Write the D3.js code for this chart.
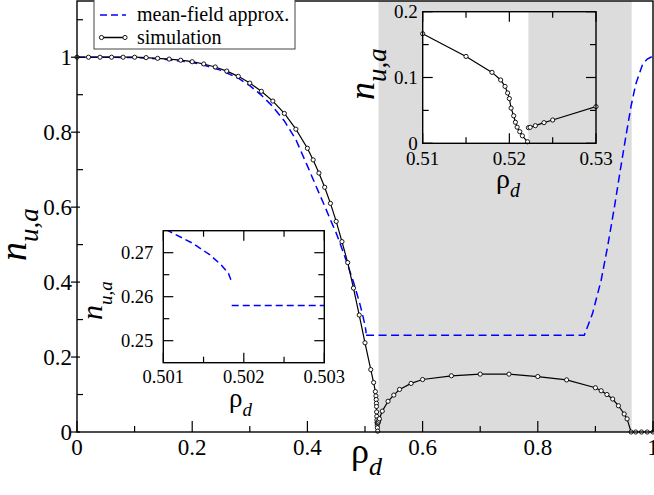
<!DOCTYPE html>
<html><head><meta charset="utf-8">
<script src="https://cdn.jsdelivr.net/npm/d3@7"></script>
<style>
body{margin:0;background:#fff;}
svg{display:block;}
</style></head><body>
<svg id="c" width="654" height="495"></svg>
<script>
// ---------------- data ----------------
const simLeftX = [0,0.02,0.04,0.06,0.08,0.10,0.12,0.14,0.16,0.18,0.20,0.22,0.24,0.26,0.28,0.30,0.32,0.34,0.36,0.38,0.40,0.41,0.42,0.43,0.44,0.45,0.46,0.47,0.48,0.49,0.50,0.51,0.515,0.518,0.519,0.5195,0.5198,0.52,0.5202,0.5205,0.5207,0.5209,0.5212,0.5215,0.5221];
const simLeftY = [1,1,1,1,1,1,0.999,0.997,0.995,0.992,0.988,0.982,0.974,0.963,0.949,0.931,0.909,0.883,0.850,0.808,0.757,0.726,0.691,0.653,0.610,0.562,0.508,0.452,0.384,0.312,0.238,0.1665,0.132,0.1078,0.0962,0.0865,0.0765,0.068,0.0535,0.0418,0.032,0.0245,0.0177,0.0114,0.0023];
const simRightX = [0.5222,0.5224,0.523,0.524,0.525,0.53,0.54,0.55,0.56,0.58,0.60,0.65,0.70,0.75,0.80,0.85,0.90,0.91,0.92,0.93,0.94,0.95,0.955,0.962,0.97,0.98,0.99,1.0];
const simRightY = [0.0238,0.0243,0.0268,0.0314,0.0354,0.0557,0.082,0.0985,0.1136,0.1296,0.140,0.150,0.1544,0.1544,0.148,0.139,0.118,0.110,0.100,0.088,0.070,0.048,0.035,0,0,0,0,0];
const mfUpperX = [0,0.05,0.10,0.15,0.20,0.22,0.25,0.28,0.30,0.32,0.34,0.36,0.38,0.40,0.42,0.43,0.44,0.45,0.46,0.47,0.48,0.49,0.495,0.50,0.501,0.50107,0.50137,0.50158,0.50172,0.50181,0.50185];
const mfUpperY = [1,1,0.999,0.995,0.986,0.979,0.965,0.944,0.924,0.899,0.868,0.83,0.78,0.71,0.638,0.603,0.566,0.531,0.489,0.446,0.400,0.348,0.318,0.285,0.2757,0.2749,0.2721,0.2695,0.2672,0.2653,0.2633];
const mfLowerX = [0.50185,0.8806,0.895,0.91,0.921,0.933,0.944,0.953,0.962,0.970,0.982,0.990,1.0];
const mfLowerY = [0.2580,0.2580,0.316,0.405,0.493,0.600,0.706,0.79,0.87,0.928,0.981,0.995,1.003];
const shadeMain = [0.5235, 0.963];
const shadeInset = [0.5222, 0.53];
const mainXTicks = [0,0.2,0.4,0.6,0.8,1], mainXMinor = [0.1,0.3,0.5,0.7,0.9];
const mainYTicks = [0,0.2,0.4,0.6,0.8,1], mainYMinor = [0.1,0.3,0.5,0.7,0.9,1.1];
const in1XTicks = [0.51,0.52,0.53], in1XMinor = [0.515,0.525];
const in1YTicks = [0,0.1,0.2], in1YMinor = [0.05,0.15];
const in2XTicks = [0.501,0.502,0.503], in2XMinor = [0.5015,0.5025];
const in2YTicks = [0.25,0.26,0.27], in2YMinor = [0.255,0.265];
const legendLabels = ["mean-field approx.", "simulation"];

// ---------------- drawing ----------------
const FONT = "'Liberation Serif', 'Times New Roman', Times, 'DejaVu Serif', serif";
const svg = d3.select("#c");
const BLUE = "#0000ff", GRAY = "#dcdcdc";
const zip = (a,b) => a.map((v,i)=>[v,b[i]]);
const fmt = d3.format("~g");
function txt(g){ return g.append("text").style("font-family", FONT).attr("fill","#000"); }

function addClip(id, x0, y0, x1, y1){
  svg.append("clipPath").attr("id", id).append("rect")
    .attr("x", x0).attr("y", y0).attr("width", x1-x0).attr("height", y1-y0);
}
function drawLine(g, x, y, pts, color, w, dash, clip){
  g.append("path").datum(pts)
    .attr("d", d3.line().x(d=>x(d[0])).y(d=>y(d[1])))
    .attr("fill","none").attr("stroke",color).attr("stroke-width",w)
    .attr("stroke-dasharray", dash || null)
    .attr("clip-path", clip ? `url(#${clip})` : null);
}
function drawPoints(g, x, y, pts, clip){
  g.append("g").attr("clip-path", clip ? `url(#${clip})` : null)
    .selectAll("circle").data(pts).join("circle")
    .attr("cx", d=>x(d[0])).attr("cy", d=>y(d[1])).attr("r", 2.1)
    .attr("fill","#fff").attr("stroke","#000").attr("stroke-width",0.9);
}
// rotated y title "n_{u,a}", starting (bottom) at (bx, by)
function yTitle(g, bx, by, nfs, sfs, dy){
  const t = txt(g).attr("transform",`translate(${bx},${by}) rotate(-90)`).attr("text-anchor","start");
  t.append("tspan").attr("font-size",nfs).attr("font-style","italic").text("n");
  t.append("tspan").attr("font-size",sfs).attr("font-style","italic").attr("dy",dy).text("u,a");
}
function xTitle(g, lx, by, rfs, sfs, dy){
  const t = txt(g).attr("x",lx).attr("y",by);
  t.append("tspan").attr("font-size",rfs).text("ρ");
  t.append("tspan").attr("font-size",sfs).attr("font-style","italic").attr("dy",dy).text("d");
}

// ===== main panel =====
const M = {l:77, r:653, t:1, b:432};
const x = d3.scaleLinear().domain([0,1]).range([M.l, M.r]);
const y = d3.scaleLinear().domain([0,1.15]).range([M.b, M.t]);
addClip("cm", M.l, M.t, M.r, M.b);
const gm = svg.append("g");
gm.append("rect").attr("x", x(shadeMain[0])).attr("y", M.t)
  .attr("width", x(shadeMain[1]) - x(shadeMain[0])).attr("height", M.b - M.t).attr("fill", GRAY);
drawLine(gm, x, y, zip(mfUpperX, mfUpperY), BLUE, 1.5, "8,4.5", "cm");
drawLine(gm, x, y, zip(mfLowerX, mfLowerY), BLUE, 1.5, "8,4.5", "cm");
drawLine(gm, x, y, zip(simLeftX, simLeftY), "#000", 1.2, null, "cm");
drawLine(gm, x, y, zip(simRightX, simRightY), "#000", 1.2, null, "cm");
drawPoints(gm, x, y, zip(simLeftX, simLeftY));
drawPoints(gm, x, y, zip(simRightX, simRightY));
gm.append("rect").attr("x", M.l).attr("y", M.t).attr("width", M.r-M.l).attr("height", M.b-M.t)
  .attr("fill","none").attr("stroke","#000").attr("stroke-width",1.4);
// ticks
const tk = gm.append("g").attr("stroke","#000").attr("stroke-width",1.2);
mainXTicks.forEach(v=>tk.append("line").attr("x1",x(v)).attr("x2",x(v)).attr("y1",M.b).attr("y2",M.b-11));
mainXMinor.forEach(v=>tk.append("line").attr("x1",x(v)).attr("x2",x(v)).attr("y1",M.b).attr("y2",M.b-6));
mainYTicks.forEach(v=>tk.append("line").attr("x1",M.l-6).attr("x2",M.l+3).attr("y1",y(v)).attr("y2",y(v)));
mainYMinor.forEach(v=>tk.append("line").attr("x1",M.l).attr("x2",M.l+6).attr("y1",y(v)).attr("y2",y(v)));
mainXTicks.forEach(v=>txt(gm).attr("x",x(v)).attr("y",455).attr("text-anchor","middle")
  .attr("font-size",23).text(fmt(v)));
mainYTicks.forEach(v=>txt(gm).attr("x",72).attr("y",y(v)+8).attr("text-anchor","end")
  .attr("font-size",23).text(fmt(v)));
xTitle(gm, 351, 463, 36, 26, 12);
yTitle(gm, 26, 261, 38, 27, 12);

// legend
const lg = svg.append("g");
lg.append("rect").attr("x",94).attr("y",-1).attr("width",201).attr("height",50)
  .attr("fill","#fff").attr("stroke","#444").attr("stroke-width",1);
lg.append("line").attr("x1",100).attr("x2",126).attr("y1",15).attr("y2",15)
  .attr("stroke",BLUE).attr("stroke-width",1.5).attr("stroke-dasharray","7,4");
lg.append("line").attr("x1",101).attr("x2",125).attr("y1",37.5).attr("y2",37.5)
  .attr("stroke","#000").attr("stroke-width",1.5);
[101.5,125].forEach(cx=>lg.append("circle").attr("cx",cx).attr("cy",37.5).attr("r",2.1)
  .attr("fill","#fff").attr("stroke","#000").attr("stroke-width",0.9));
txt(lg).attr("x",137).attr("y",20.5).attr("font-size",20).text(legendLabels[0]);
txt(lg).attr("x",137).attr("y",43.5).attr("font-size",20).text(legendLabels[1]);

// ===== inset helper =====
function insetFrame(g, B, xs, ys, xT, xMn, yT, yMn, opt){
  g.append("rect").attr("x",B.l).attr("y",B.t).attr("width",B.r-B.l).attr("height",B.b-B.t)
    .attr("fill","none").attr("stroke","#000").attr("stroke-width",1.4);
  const t = g.append("g").attr("stroke","#000").attr("stroke-width",1.2);
  const L = 10, S = 6;
  xT.forEach(v=>{ t.append("line").attr("x1",xs(v)).attr("x2",xs(v)).attr("y1",B.b).attr("y2",B.b-L);
                   t.append("line").attr("x1",xs(v)).attr("x2",xs(v)).attr("y1",B.t).attr("y2",B.t+L); });
  xMn.forEach(v=>{ t.append("line").attr("x1",xs(v)).attr("x2",xs(v)).attr("y1",B.b).attr("y2",B.b-S);
                   t.append("line").attr("x1",xs(v)).attr("x2",xs(v)).attr("y1",B.t).attr("y2",B.t+S); });
  yT.forEach(v=>{ t.append("line").attr("y1",ys(v)).attr("y2",ys(v)).attr("x1",B.l).attr("x2",B.l+L);
                   t.append("line").attr("y1",ys(v)).attr("y2",ys(v)).attr("x1",B.r).attr("x2",B.r-L); });
  yMn.forEach(v=>{ t.append("line").attr("y1",ys(v)).attr("y2",ys(v)).attr("x1",B.l).attr("x2",B.l+S);
                   t.append("line").attr("y1",ys(v)).attr("y2",ys(v)).attr("x1",B.r).attr("x2",B.r-S); });
  xT.forEach(v=>txt(g).attr("x",xs(v)).attr("y",B.b+opt.xlab).attr("text-anchor","middle")
    .attr("font-size",opt.fs).text(fmt(v)));
  yT.forEach(v=>txt(g).attr("x",B.l-opt.ylab).attr("y",ys(v)+opt.fs*0.34).attr("text-anchor","end")
    .attr("font-size",opt.fs).text(fmt(v)));
}

// ===== inset 2 (lower left) =====
const B2 = {l:163.3, r:324.3, t:230.7, b:362.7};
const x2 = d3.scaleLinear().domain([0.501,0.503]).range([B2.l,B2.r]);
const y2 = d3.scaleLinear().domain([0.245,0.275]).range([B2.b,B2.t]);
addClip("c2", B2.l, B2.t, B2.r, B2.b);
const g2 = svg.append("g");
g2.append("rect").attr("x",B2.l).attr("y",B2.t).attr("width",B2.r-B2.l).attr("height",B2.b-B2.t).attr("fill","#fff");
drawLine(g2, x2, y2, zip(mfUpperX, mfUpperY), BLUE, 1.5, "7,4", "c2");
drawLine(g2, x2, y2, zip(mfLowerX, mfLowerY), BLUE, 1.5, "7,4", "c2");
insetFrame(g2, B2, x2, y2, in2XTicks, in2XMinor, in2YTicks, in2YMinor, {fs:18.5, xlab:20.5, ylab:10});
xTitle(g2, 229, 407, 27, 19, 9);
yTitle(g2, 102, 320, 30, 19, 10);

// ===== inset 1 (upper right) =====
const B1 = {l:422.7, r:596, t:11.7, b:143.3};
const x1 = d3.scaleLinear().domain([0.51,0.53]).range([B1.l,B1.r]);
const y1 = d3.scaleLinear().domain([0,0.2]).range([B1.b,B1.t]);
addClip("c1", B1.l, B1.t, B1.r, B1.b);
const g1 = svg.append("g");
g1.append("rect").attr("x",B1.l).attr("y",B1.t).attr("width",B1.r-B1.l).attr("height",B1.b-B1.t).attr("fill","#fff");
g1.append("rect").attr("x",x1(shadeInset[0])).attr("y",B1.t)
  .attr("width",x1(shadeInset[1])-x1(shadeInset[0])).attr("height",B1.b-B1.t).attr("fill",GRAY);
drawLine(g1, x1, y1, zip(mfUpperX, mfUpperY), BLUE, 1.5, "7,4", "c1");
drawLine(g1, x1, y1, zip(mfLowerX, mfLowerY), BLUE, 1.5, "7,4", "c1");
drawLine(g1, x1, y1, zip(simLeftX, simLeftY), "#000", 1.2, null, "c1");
drawLine(g1, x1, y1, zip(simRightX, simRightY), "#000", 1.2, null, "c1");
const inDom = d => d[0] >= 0.5099 && d[0] <= 0.5301;
drawPoints(g1, x1, y1, zip(simLeftX, simLeftY).filter(inDom));
drawPoints(g1, x1, y1, zip(simRightX, simRightY).filter(inDom));
insetFrame(g1, B1, x1, y1, in1XTicks, in1XMinor, in1YTicks, in1YMinor, {fs:19, xlab:21.5, ylab:5});
xTitle(g1, 496, 188, 28, 20, 9);
yTitle(g1, 374, 100, 36, 27, 12);
</script>
</body></html>
